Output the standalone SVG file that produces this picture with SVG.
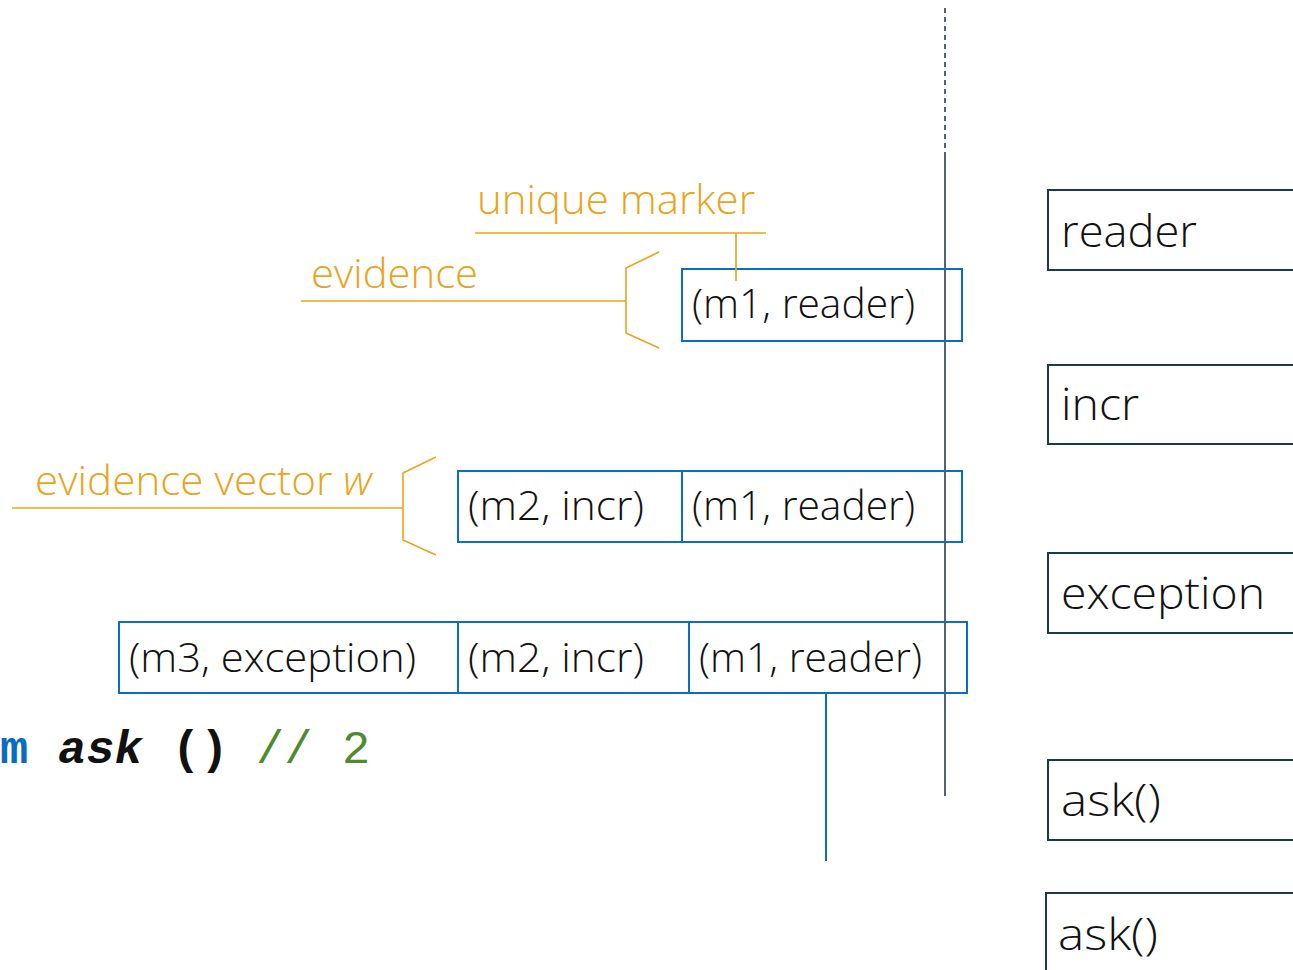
<svg xmlns="http://www.w3.org/2000/svg" width="1293" height="970" viewBox="0 0 1293 970">
  <style>
    .lbl { font-family: "Open Sans", "Noto Sans", "Liberation Sans", sans-serif; font-weight: 300; fill: #111; }
    .cell { font-size: 40px; }
    .frame { font-size: 45px; }
    .note { font-family: "Open Sans", "Noto Sans", "Liberation Sans", sans-serif; font-weight: 300; font-size: 40px; fill: #e9a41c; }
    .blue { fill: none; stroke: #0b6fc1; stroke-width: 2; }
    .dark { fill: none; stroke: #1c3b4a; stroke-width: 2; }
    .orange { fill: none; stroke: #e9a41c; stroke-width: 1.6; }
    .code { font-family: "Liberation Mono", "DejaVu Sans Mono", monospace; font-size: 47px; font-weight: bold; }
    .comment { font-weight: normal; fill: #4f8a2e; }
  </style>

  <rect width="1293" height="970" fill="#ffffff"/>

  <!-- stack boundary -->
  <g id="boundary">
    <line x1="945" y1="8" x2="945" y2="155" stroke="#1c2f3a" stroke-width="1.5" stroke-dasharray="5,4"/>
    <line x1="945" y1="155" x2="945" y2="796" stroke="#1c2f3a" stroke-width="1.5"/>
  </g>

  <!-- handler frames on the right -->
  <g id="frame-reader">
    <rect class="dark" x="1048" y="190" width="260" height="80"/>
    <text class="lbl frame" x="1061" y="247" textLength="136" lengthAdjust="spacingAndGlyphs">reader</text>
  </g>
  <g id="frame-incr">
    <rect class="dark" x="1048" y="365" width="260" height="79"/>
    <text class="lbl frame" x="1061" y="420" textLength="78" lengthAdjust="spacingAndGlyphs">incr</text>
  </g>
  <g id="frame-exception">
    <rect class="dark" x="1048" y="553" width="260" height="80"/>
    <text class="lbl frame" x="1061" y="609" textLength="204" lengthAdjust="spacingAndGlyphs">exception</text>
  </g>
  <g id="frame-ask1">
    <rect class="dark" x="1048" y="760" width="260" height="80"/>
    <text class="lbl frame" x="1061" y="816" textLength="100" lengthAdjust="spacingAndGlyphs">ask()</text>
  </g>
  <g id="frame-ask2">
    <rect class="dark" x="1046" y="893" width="260" height="90"/>
    <text class="lbl frame" x="1058" y="950" textLength="100" lengthAdjust="spacingAndGlyphs">ask()</text>
  </g>

  <!-- evidence vectors -->
  <g id="vector-1">
    <rect class="blue" x="682" y="269" width="280" height="72"/>
    <text class="lbl cell" x="692" y="318" textLength="223" lengthAdjust="spacingAndGlyphs">(m1, reader)</text>
  </g>
  <g id="vector-2">
    <rect class="blue" x="458" y="471" width="504" height="71"/>
    <line class="blue" x1="682" y1="471" x2="682" y2="542"/>
    <text class="lbl cell" x="468" y="520" textLength="176" lengthAdjust="spacingAndGlyphs">(m2, incr)</text>
    <text class="lbl cell" x="692" y="520" textLength="223" lengthAdjust="spacingAndGlyphs">(m1, reader)</text>
  </g>
  <g id="vector-3">
    <rect class="blue" x="119" y="622" width="848" height="71"/>
    <line class="blue" x1="458" y1="622" x2="458" y2="693"/>
    <line class="blue" x1="689" y1="622" x2="689" y2="693"/>
    <text class="lbl cell" x="129" y="672" textLength="287" lengthAdjust="spacingAndGlyphs">(m3, exception)</text>
    <text class="lbl cell" x="468" y="672" textLength="176" lengthAdjust="spacingAndGlyphs">(m2, incr)</text>
    <text class="lbl cell" x="699" y="672" textLength="223" lengthAdjust="spacingAndGlyphs">(m1, reader)</text>
  </g>

  <!-- annotations -->
  <g id="note-marker">
    <text class="note" x="477" y="214" textLength="278" lengthAdjust="spacingAndGlyphs">unique marker</text>
  </g>
  <g id="note-evidence">
    <text class="note" x="311" y="288" textLength="167" lengthAdjust="spacingAndGlyphs">evidence</text>
  </g>
  <g id="note-vector">
    <text class="note" x="35" y="495" textLength="337" lengthAdjust="spacingAndGlyphs">evidence vector <tspan font-style="italic">w</tspan></text>
  </g>

  <!-- connectors -->
  <g id="connectors">
    <polyline class="orange" points="475,233 766,233"/>
    <line class="orange" x1="736" y1="233" x2="736" y2="281"/>
    <line class="orange" x1="301" y1="301" x2="626" y2="301"/>
    <polyline class="orange" points="659,252 626,268 626,333 659,348"/>
    <line class="orange" x1="12" y1="508" x2="403" y2="508"/>
    <polyline class="orange" points="436,457 403,473 403,540 436,555"/>
    <line class="blue" x1="826" y1="693" x2="826" y2="861" stroke-width="1.5"/>
  </g>

  <!-- code line -->
  <g id="code">
    <text class="code" x="0" y="763" fill="#0a6cc0">m</text>
    <text class="code" x="58" y="763" fill="#111" font-style="italic">ask</text>
    <text class="code" x="172" y="763" fill="#111">()</text>
    <text class="code comment" x="256" y="763">//</text>
    <text class="code comment" x="342" y="763">2</text>
  </g>
</svg>
